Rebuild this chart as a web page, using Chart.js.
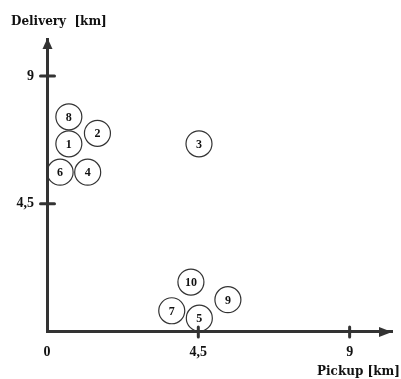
<!DOCTYPE html>
<html>
<head>
<meta charset="utf-8">
<title>Pickup and delivery distances</title>
<script src="https://cdn.jsdelivr.net/npm/chart.js@4.4.1/dist/chart.umd.min.js"></script>
<style>
  html, body { margin: 0; padding: 0; background: #fff; }
  canvas { display: block; }
</style>
</head>
<body>
<canvas id="scatter" width="401" height="379"></canvas>
<script>
// customers with their pickup and delivery distances (km)
const customers = ['1', '2', '3', '4', '5', '6', '7', '8', '9', '10'];
const pickupKm = [0.65, 1.50, 4.52, 1.21, 4.53, 0.39, 3.71, 0.65, 5.38, 4.28];
const deliveryKm = [6.61, 6.98, 6.61, 5.61, 0.47, 5.61, 0.73, 7.56, 1.12, 1.74];

const pickupTicks = [0, 4.5, 9];
const deliveryTicks = [4.5, 9];
const pickupName = 'Pickup [km]';
const deliveryName = 'Delivery  [km]';

const ink = '#111';
const axisColor = '#333';
const wideSerif = '"DejaVu Serif", serif';
const serif = '"Liberation Serif", "Times New Roman", serif';

const points = customers.map((c, i) => ({ x: pickupKm[i], y: deliveryKm[i] }));
const fmt = v => String(v).replace('.', ',');

// arrows, crossing tick marks, axis names and the numbers inside the circles
const axisDecor = {
  id: 'axisDecor',
  afterDraw(chart) {
    const { ctx, chartArea: a, scales: { x, y } } = chart;
    const ax = x.getPixelForValue(0) + 0.5;
    const ay = y.getPixelForValue(0) + 0.5;
    ctx.save();
    ctx.fillStyle = axisColor;
    ctx.strokeStyle = axisColor;

    ctx.beginPath();
    ctx.moveTo(a.right, ay);
    ctx.lineTo(a.right - 13, ay - 5);
    ctx.lineTo(a.right - 13, ay + 5);
    ctx.closePath();
    ctx.fill();

    ctx.beginPath();
    ctx.moveTo(ax, a.top - 1);
    ctx.lineTo(ax - 5, a.top + 10);
    ctx.lineTo(ax + 5, a.top + 10);
    ctx.closePath();
    ctx.fill();

    ctx.lineWidth = 3;
    ctx.lineCap = 'round';
    y.ticks.forEach(t => {
      const py = y.getPixelForValue(t.value);
      ctx.beginPath();
      ctx.moveTo(ax - 7, py);
      ctx.lineTo(ax + 7, py);
      ctx.stroke();
    });
    x.ticks.forEach(t => {
      if (t.value === 0) return;
      const px = x.getPixelForValue(t.value);
      ctx.beginPath();
      ctx.moveTo(px, ay - 5);
      ctx.lineTo(px, ay + 5);
      ctx.stroke();
    });

    ctx.fillStyle = ink;
    ctx.font = 'bold 12px ' + wideSerif;
    ctx.textAlign = 'left';
    ctx.textBaseline = 'alphabetic';
    ctx.fillText(deliveryName, 11, 25);
    ctx.fillText(pickupName, 317, 375);

    ctx.font = 'bold 12px ' + serif;
    ctx.textAlign = 'center';
    ctx.textBaseline = 'middle';
    chart.getDatasetMeta(0).data.forEach((pt, i) => {
      ctx.fillText(customers[i], pt.x, pt.y + 1);
    });
    ctx.restore();
  }
};

new Chart(document.getElementById('scatter'), {
  type: 'scatter',
  data: {
    datasets: [{
      data: points,
      pointRadius: 13,
      pointHoverRadius: 13,
      pointBackgroundColor: 'rgba(255,255,255,0)',
      pointBorderColor: axisColor,
      pointBorderWidth: 1.2,
      clip: false
    }]
  },
  options: {
    responsive: false,
    animation: false,
    layout: {
      autoPadding: false,
      padding: { top: 39, right: 9, left: 0, bottom: 0 }
    },
    plugins: { legend: { display: false }, tooltip: { enabled: false } },
    scales: {
      x: {
        type: 'linear',
        min: 0,
        max: 10.26,
        afterFit: s => {
          s.height = 47.5;
          s.paddingLeft = 0;
          s.paddingRight = 0;
        },
        afterBuildTicks: s => { s.ticks = pickupTicks.map(v => ({ value: v })); },
        grid: { display: false, drawTicks: false },
        border: { display: true, width: 3, color: axisColor },
        ticks: {
          padding: 12,
          color: ink,
          font: { family: serif, size: 14, weight: 'bold' },
          callback: fmt
        }
      },
      y: {
        type: 'linear',
        min: 0,
        max: 10.3,
        afterFit: s => {
          s.width = 47;
          s.paddingTop = 0;
          s.paddingBottom = 0;
        },
        afterBuildTicks: s => { s.ticks = deliveryTicks.map(v => ({ value: v })); },
        grid: { display: false, drawTicks: false },
        border: { display: true, width: 3, color: axisColor },
        ticks: {
          padding: 13,
          color: ink,
          font: { family: serif, size: 14, weight: 'bold' },
          callback: fmt
        }
      }
    }
  },
  plugins: [axisDecor]
});
</script>
</body>
</html>
